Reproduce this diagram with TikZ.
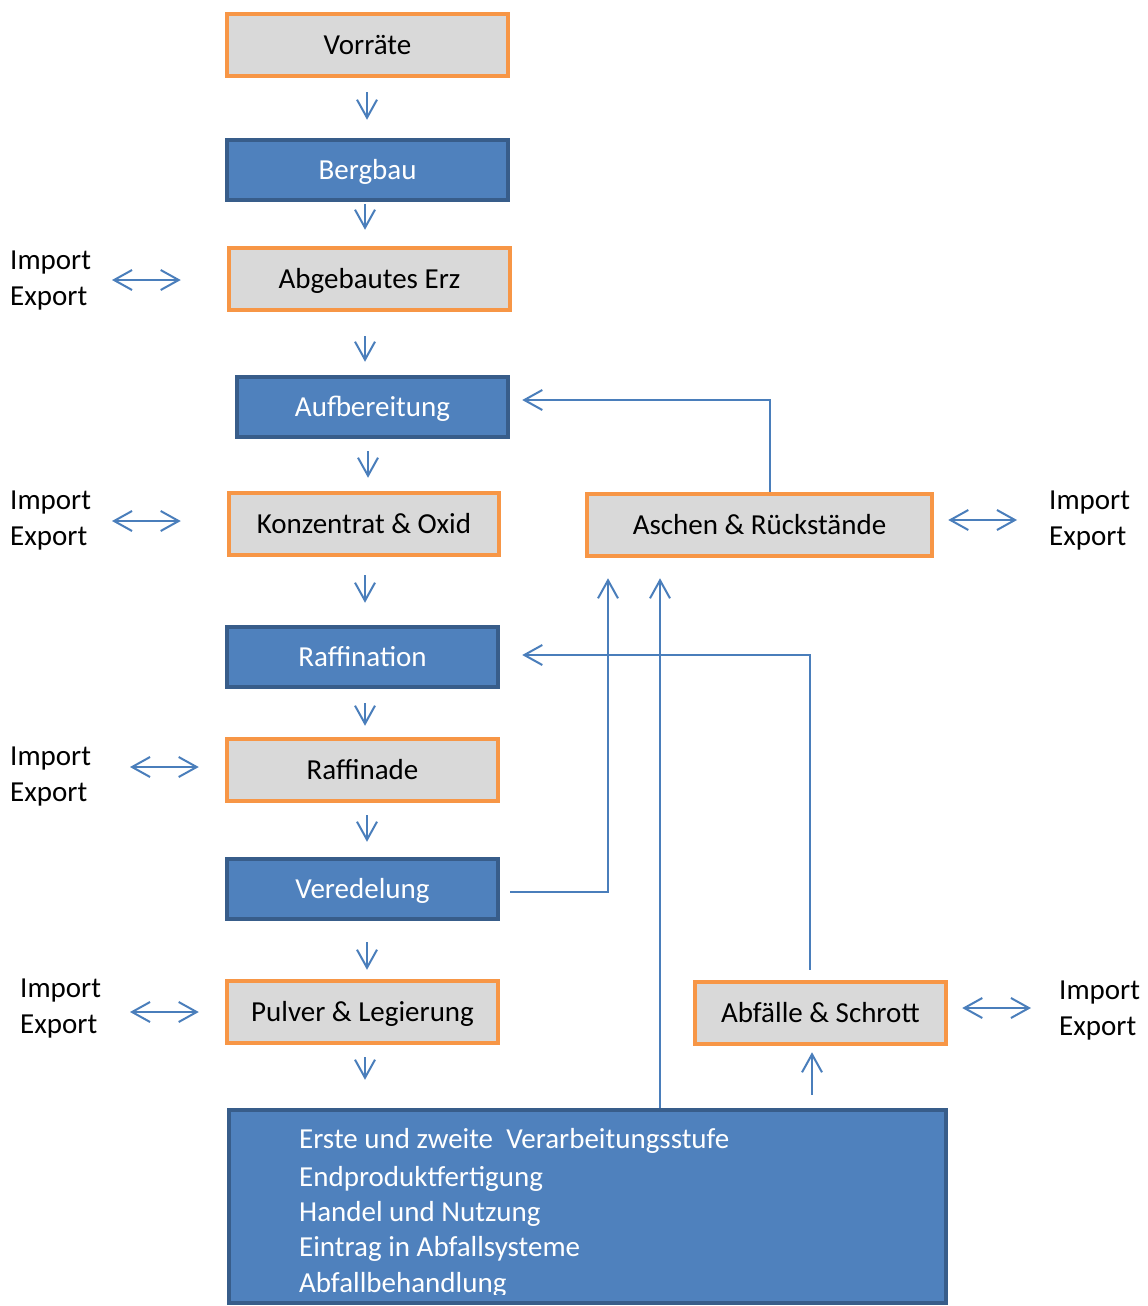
\documentclass[tikz,border=0pt]{standalone}
\usepackage{fontspec}
\setmainfont{Carlito}
\usetikzlibrary{arrows.meta}
\definecolor{orB}{HTML}{F79646}
\definecolor{grF}{HTML}{D9D9D9}
\definecolor{blF}{HTML}{4F81BD}
\definecolor{blD}{HTML}{385D8A}
\definecolor{arC}{HTML}{4A7EBB}
\begin{document}
\begin{tikzpicture}[x=1pt,y=-1pt,
  box/.style={rectangle, line width=4.5pt, inner sep=0pt, text height=25pt, text depth=6.6pt, font=\fontsize{29}{35}\selectfont},
  obox/.style={box, draw=orB, fill=grF, text=black},
  bbox/.style={box, draw=blD, fill=blF, text=white},
  lbl/.style={anchor=base west, inner sep=0pt, font=\fontsize{29}{35}\selectfont},
  wlbl/.style={lbl, text=white},
  arr/.style={draw=arC, line width=2pt, -{Straight Barb[length=18pt,width=20pt]}},
  darr/.style={draw=arC, line width=2pt, {Straight Barb[length=18pt,width=20pt]}-{Straight Barb[length=18pt,width=20pt]}}]
\useasboundingbox (0,0) rectangle (1148,1306);

% boxes
\node[obox, minimum width=281pt, minimum height=62pt] (vor) at (367.5,45) {Vorräte};
\node[bbox, minimum width=281pt, minimum height=60pt] (berg) at (367.5,170) {Bergbau};
\node[obox, minimum width=281pt, minimum height=62pt] (erz) at (369.5,279) {Abgebautes Erz};
\node[bbox, minimum width=271pt, minimum height=60pt] (auf) at (372.5,407) {Aufbereitung};
\node[obox, minimum width=270pt, minimum height=62pt] (konz) at (364,524) {Konzentrat \& Oxid};
\node[obox, minimum width=345pt, minimum height=62pt] (asch) at (759.5,525) {Aschen \& Rückstände};
\node[bbox, minimum width=271pt, minimum height=60pt] (raffn) at (362.5,657) {Raffination};
\node[obox, minimum width=271pt, minimum height=62pt] (raffd) at (362.5,770) {Raffinade};
\node[bbox, minimum width=271pt, minimum height=60pt] (vered) at (362.5,889) {Veredelung};
\node[obox, minimum width=271pt, minimum height=62pt] (pulv) at (362.5,1012) {Pulver \& Legierung};
\node[obox, minimum width=251pt, minimum height=62pt] (abf) at (820.5,1013) {Abfälle \& Schrott};
\node[bbox, minimum width=717pt, minimum height=193pt] (proc) at (587.5,1206.5) {};

% text of the bottom box
\node[wlbl] (p1) at (299,1148) {Erste und zweite \ Verarbeitungsstufe};
\node[wlbl] (p2) at (299,1186) {Endproduktfertigung};
\node[wlbl] (p3) at (299,1221) {Handel und Nutzung};
\node[wlbl] (p4) at (299,1256) {Eintrag in Abfallsysteme};
\begin{scope}
  \clip (0,0) rectangle (1148,1294);
  \node[wlbl] (p5) at (299,1292) {Abfallbehandlung};
\end{scope}

% import / export labels
\node[lbl] (i1) at (10,269) {Import};
\node[lbl] (e1) at (10,305) {Export};
\node[lbl] (i2) at (10,509) {Import};
\node[lbl] (e2) at (10,545) {Export};
\node[lbl] (i3) at (10,765) {Import};
\node[lbl] (e3) at (10,801) {Export};
\node[lbl] (i4) at (20,997) {Import};
\node[lbl] (e4) at (20,1033) {Export};
\node[lbl] (i5) at (1049,509) {Import};
\node[lbl] (e5) at (1049,545) {Export};
\node[lbl] (i6) at (1059,999) {Import};
\node[lbl] (e6) at (1059,1035) {Export};

% main chain
\draw[arr, shorten <=14pt, shorten >=18pt] (vor.south -| 367,0) -- (berg.north -| 367,0);
\draw[arr, shorten <=2pt, shorten >=16pt] (berg.south -| 365,0) -- (erz.north -| 365,0);
\draw[arr, shorten <=24pt, shorten >=13pt] (erz.south -| 365,0) -- (auf.north -| 365,0);
\draw[arr, shorten <=12pt, shorten >=13pt] (auf.south -| 368,0) -- (konz.north -| 368,0);
\draw[arr, shorten <=18pt, shorten >=22pt] (konz.south -| 365,0) -- (raffn.north -| 365,0);
\draw[arr, shorten <=14pt, shorten >=11pt] (raffn.south -| 365,0) -- (raffd.north -| 365,0);
\draw[arr, shorten <=12pt, shorten >=15pt] (raffd.south -| 367,0) -- (vered.north -| 367,0);
\draw[arr, shorten <=21pt, shorten >=9pt] (vered.south -| 367,0) -- (pulv.north -| 367,0);
\draw[arr, shorten <=12pt, shorten >=28pt] (pulv.south -| 365,0) -- (proc.north -| 365,0);

% import/export arrows
\draw[darr, shorten >=46pt] (112,280) -- (erz.west |- 0,280);
\draw[darr, shorten >=46pt] (112,521) -- (konz.west |- 0,521);
\draw[darr, shorten >=26pt] (130,767) -- (raffd.west |- 0,767);
\draw[darr, shorten >=26pt] (130,1012) -- (pulv.west |- 0,1012);
\draw[darr, shorten <=14pt] (asch.east |- 0,520) -- (1017,520);
\draw[darr, shorten <=14pt] (abf.east |- 0,1008) -- (1031,1008);

% feedback connectors
\draw[arr, shorten >=12pt] (asch.north -| 770,0) -- (770,400) -- (auf.east |- 0,400);
\draw[arr, shorten <=10pt, shorten >=22pt] (abf.north -| 810,0) -- (810,655) -- (raffn.east |- 0,655);
\draw[arr, shorten <=10pt, shorten >=20pt] (vered.east |- 0,892) -- (608,892) -- (asch.south -| 608,0);
\draw[arr, shorten >=20pt] (proc.north -| 660,0) -- (asch.south -| 660,0);
\draw[arr, shorten <=13pt, shorten >=6pt] (proc.north -| 812,0) -- (abf.south -| 812,0);
\end{tikzpicture}
\end{document}
